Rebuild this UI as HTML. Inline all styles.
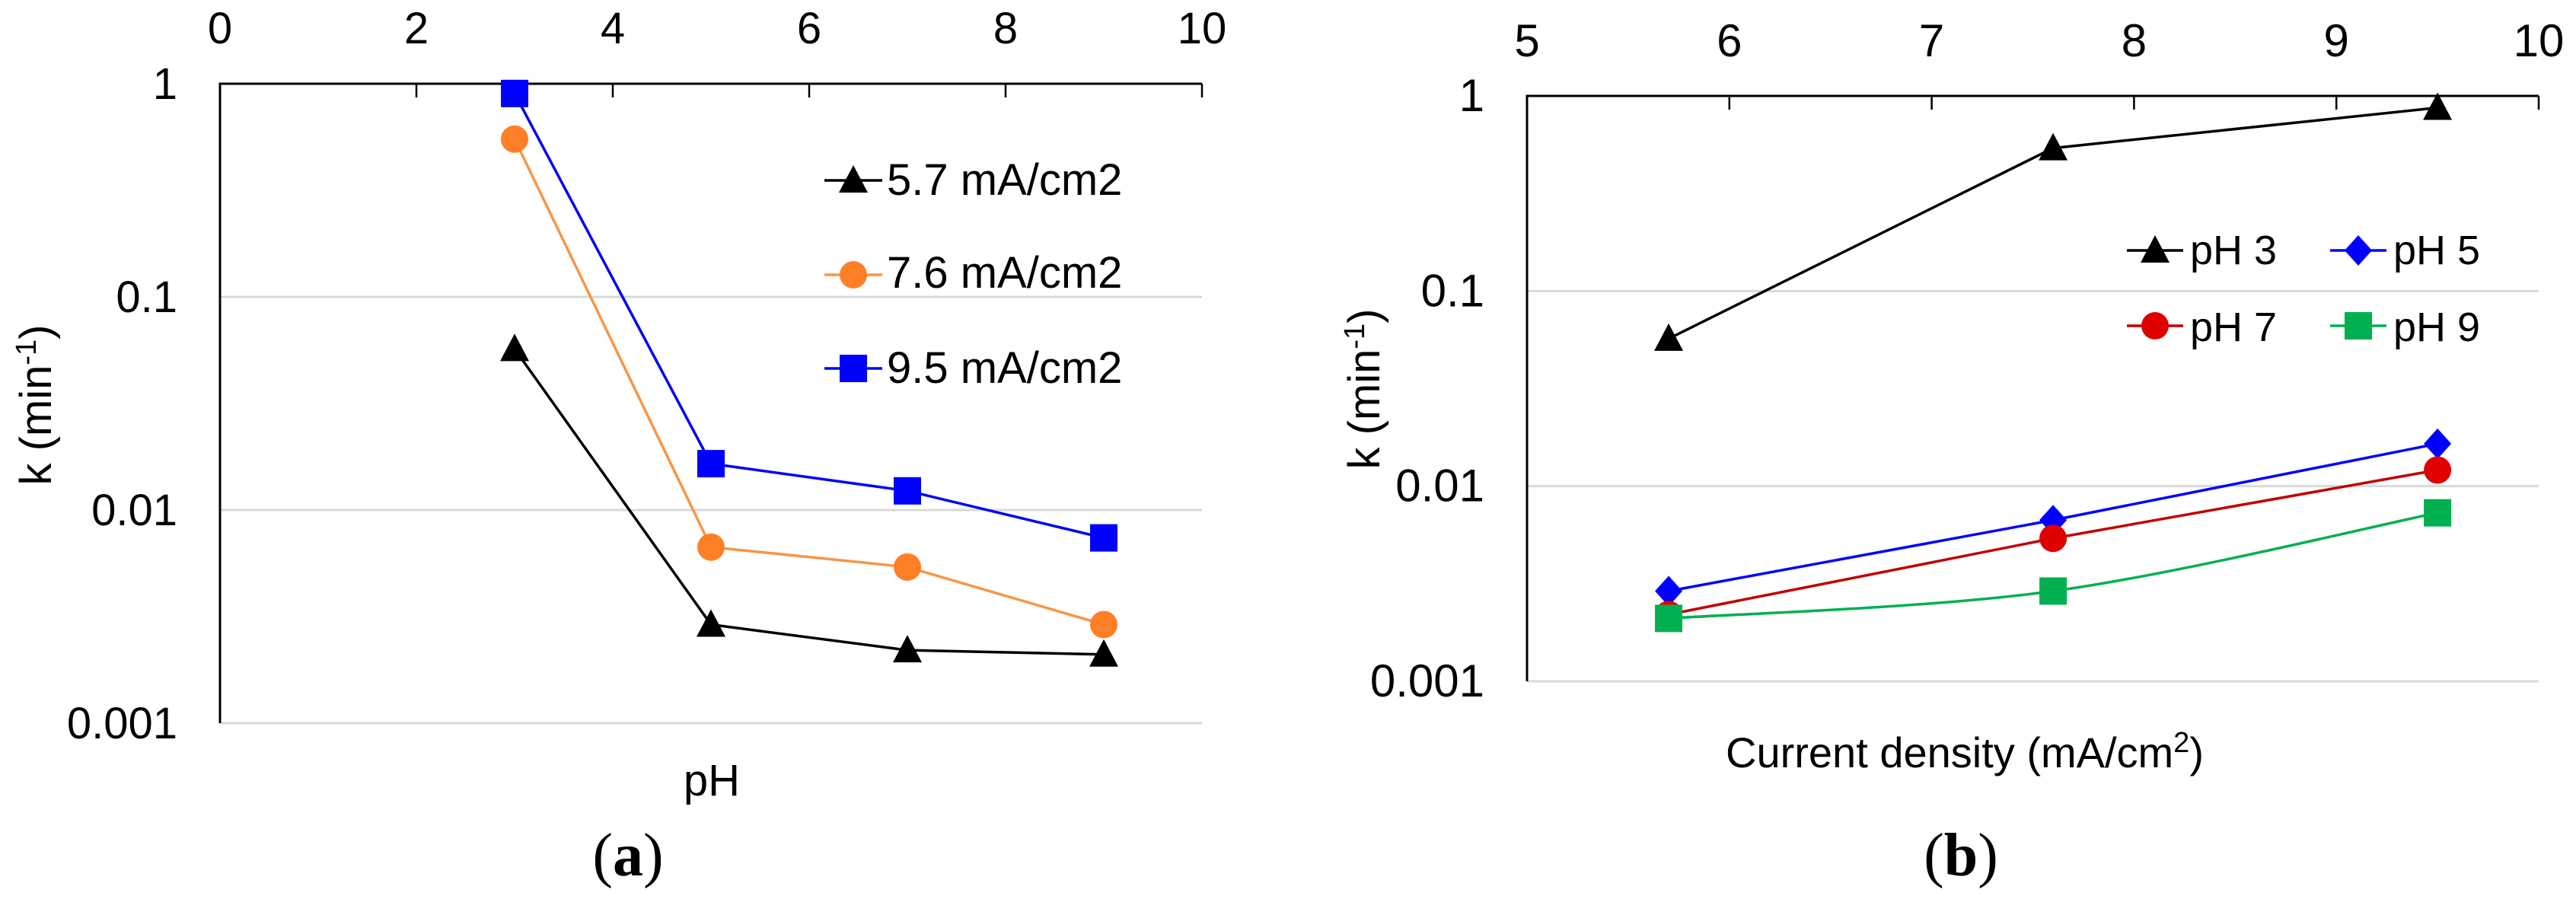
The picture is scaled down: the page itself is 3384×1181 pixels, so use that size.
<!DOCTYPE html>
<html><head><meta charset="utf-8"><style>
html,body{margin:0;padding:0;background:#fff;}
svg{display:block;}
text{font-family:"Liberation Sans",Arial,sans-serif;fill:#000;}
</style></head><body>
<svg id="fig" width="3384" height="1181" viewBox="0 0 3384 1181" xmlns="http://www.w3.org/2000/svg"></svg>
<script>
// ---- Chart (a) data ----
const phValues = [3, 5, 7, 9];
const a57 = [0.057, 0.0029, 0.0022, 0.0021];
const a76 = [0.55, 0.0067, 0.0054, 0.0029];
const a95 = [0.9, 0.0165, 0.0123, 0.0074];
const aXTicks = [0, 2, 4, 6, 8, 10];
const yTickLabels = ["1", "0.1", "0.01", "0.001"];
const yTickValues = [1, 0.1, 0.01, 0.001];
// ---- Chart (b) data ----
const currentDensity = [5.7, 7.6, 9.5];
const bPh3 = [0.057, 0.54, 0.87];
const bPh5 = [0.0029, 0.0067, 0.0165];
const bPh7 = [0.0022, 0.0054, 0.0121];
const bPh9 = [0.0021, 0.0029, 0.0073];
const bXTicks = [5, 6, 7, 8, 9, 10];

const NS = "http://www.w3.org/2000/svg";
const svg = document.getElementById("fig");
function el(tag, attrs, parent, txt){
  const e = document.createElementNS(NS, tag);
  for (const k in attrs) e.setAttribute(k, attrs[k]);
  if (txt !== undefined) e.textContent = txt;
  (parent || svg).appendChild(e);
  return e;
}
function makeAxes(cfg){
  cfg.x = v => cfg.x0 + (v - cfg.xmin) / (cfg.xmax - cfg.xmin) * (cfg.x1 - cfg.x0);
  cfg.y = v => cfg.y0 + (0 - Math.log10(v)) / 3 * (cfg.y1 - cfg.y0);
  return cfg;
}
function marker(g, type, cx, cy, fill){
  let m;
  const s = 18;
  if (type === "tri") m = el("polygon", {points:`${cx},${cy-s-2} ${cx-s-1},${cy+s-2} ${cx+s+1},${cy+s-2}`, fill:fill}, g);
  else if (type === "circle") m = el("circle", {cx:cx, cy:cy, r:s, fill:fill}, g);
  else if (type === "square") m = el("rect", {x:cx-s, y:cy-s, width:2*s, height:2*s, fill:fill}, g);
  else if (type === "diamond") m = el("polygon", {points:`${cx},${cy-s-2} ${cx+s},${cy} ${cx},${cy+s+2} ${cx-s},${cy}`, fill:fill}, g);
  return m;
}
function smoothPath(pts){
  let d = `M${pts[0][0]},${pts[0][1]}`;
  for (let i=0;i<pts.length-1;i++){
    const p0 = pts[i-1]||pts[i], p1=pts[i], p2=pts[i+1], p3=pts[i+2]||p2;
    const t=0.5/3;
    d += ` C${p1[0]+(p2[0]-p0[0])*t},${p1[1]+(p2[1]-p0[1])*t} ${p2[0]-(p3[0]-p1[0])*t},${p2[1]-(p3[1]-p1[1])*t} ${p2[0]},${p2[1]}`;
  }
  return d;
}
function drawSeries(ax, xs, ys, color, mcolor, type, name, smooth){
  const g = el("g", {});
  
  
  const pts = xs.map((x,i)=>[ax.x(x), ax.y(ys[i])]);
  if (smooth) {
    el("path", {d:smoothPath(pts), fill:"none", stroke:color, "stroke-width":3.5}, g);
  } else {
    el("polyline", {points:pts.map(p=>p.join(",")).join(" "), fill:"none", stroke:color, "stroke-width":3.5}, g);
  }
  pts.forEach(p=>{
    const m = marker(g, type, p[0], p[1], mcolor);
    
    
  });
}
function drawFrame(ax, xticks, tickFont, labelRight, tickBase, name){
  const g = el("g", {});
  
  
  yTickValues.forEach((v,i)=>{
    const yy = ax.y(v);
    if (i>0) el("line", {x1:ax.x0, x2:ax.x1, y1:yy, y2:yy, stroke:"#d9d9d9", "stroke-width":3}, g);
    const t = el("text", {x:labelRight, y:yy+20, "text-anchor":"end", "font-size":tickFont}, g, yTickLabels[i]);
    
    
  });
  el("line", {x1:ax.x0, x2:ax.x0, y1:ax.y0-1.5, y2:ax.y1, stroke:"#000", "stroke-width":3}, g);
  el("line", {x1:ax.x0, x2:ax.x1, y1:ax.y0, y2:ax.y0, stroke:"#000", "stroke-width":3}, g);
  xticks.forEach(v=>{
    const xx = ax.x(v);
    el("line", {x1:xx, x2:xx, y1:ax.y0, y2:ax.y0+18, stroke:"#000", "stroke-width":2.5}, g);
    const t = el("text", {x:xx, y:tickBase, "text-anchor":"middle", "font-size":tickFont}, g, String(v));
    
    
  });
}

// ---------- Chart (a) ----------
const A = makeAxes({x0:289, x1:1579, xmin:0, xmax:10, y0:110, y1:950});
drawFrame(A, aXTicks, 58, 233, 57, "chart-a-axes");
drawSeries(A, phValues, a57, "#000", "#000", "tri", "series-5-7", false);
drawSeries(A, phValues, a76, "#f79646", "#ff7f27", "circle", "series-7-6", false);
drawSeries(A, phValues, a95, "#0000ff", "#0000ff", "square", "series-9-5", false);

const legA = [["5.7 mA/cm2","#000","#000","tri",237,256],["7.6 mA/cm2","#f79646","#ff7f27","circle",361,378],["9.5 mA/cm2","#0000ff","#0000ff","square",484,503]];
legA.forEach(r=>{
  const g = el("g", {});
  
  
  el("line", {x1:1083, x2:1159, y1:r[4], y2:r[4], stroke:r[1], "stroke-width":3.5}, g);
  marker(g, r[3], 1121, r[4], r[2]);
  el("text", {x:1165, y:r[5], "font-size":58}, g, r[0]);
});
const ytA = el("text", {x:0, y:0, "font-size":58, "text-anchor":"middle", transform:"translate(67,532) rotate(-90)"}, svg);


ytA.innerHTML = 'k (min<tspan dy="-20" font-size="38">-1</tspan><tspan dy="20">)</tspan>';
const xtA = el("text", {x:935, y:1045, "font-size":58, "text-anchor":"middle"}, svg, "pH");


const capA = el("text", {x:825, y:1150, "font-size":80, "text-anchor":"middle", style:"font-family:'Liberation Serif',serif"}, svg);


capA.innerHTML = '(<tspan font-weight="bold">a</tspan>)';

// ---------- Chart (b) ----------
const B = makeAxes({x0:2006, x1:3335, xmin:5, xmax:10, y0:126, y1:895});
drawFrame(B, bXTicks, 60, 1950, 74, "chart-b-axes");
drawSeries(B, currentDensity, bPh3, "#000", "#000", "tri", "series-ph3", false);
drawSeries(B, currentDensity, bPh5, "#0000ff", "#0000ff", "diamond", "series-ph5", false);
drawSeries(B, currentDensity, bPh7, "#c00000", "#e00000", "circle", "series-ph7", false);
drawSeries(B, currentDensity, bPh9, "#00b050", "#00b050", "square", "series-ph9", true);

const legB = [["pH 3","#000","#000","tri",2794,329,347],["pH 5","#0000ff","#0000ff","diamond",3061,329,347],["pH 7","#c00000","#e00000","circle",2794,428,448],["pH 9","#00b050","#00b050","square",3061,428,448]];
legB.forEach(r=>{
  const g = el("g", {});
  
  
  el("line", {x1:r[4], x2:r[4]+74, y1:r[5], y2:r[5], stroke:r[1], "stroke-width":3.5}, g);
  marker(g, r[3], r[4]+37, r[5], r[2]);
  el("text", {x:r[4]+83, y:r[6], "font-size":54}, g, r[0]);
});
const ytB = el("text", {x:0, y:0, "font-size":58, "text-anchor":"middle", transform:"translate(1812,511) rotate(-90)"}, svg);


ytB.innerHTML = 'k (min<tspan dy="-20" font-size="38">-1</tspan><tspan dy="20">)</tspan>';
const xtB = el("text", {x:2581, y:1008, "font-size":56, "text-anchor":"middle"}, svg);


xtB.innerHTML = 'Current density (mA/cm<tspan dy="-20" font-size="38">2</tspan><tspan dy="20">)</tspan>';
const capB = el("text", {x:2576, y:1150, "font-size":80, "text-anchor":"middle", style:"font-family:'Liberation Serif',serif"}, svg);


capB.innerHTML = '(<tspan font-weight="bold">b</tspan>)';
</script>
</body></html>
